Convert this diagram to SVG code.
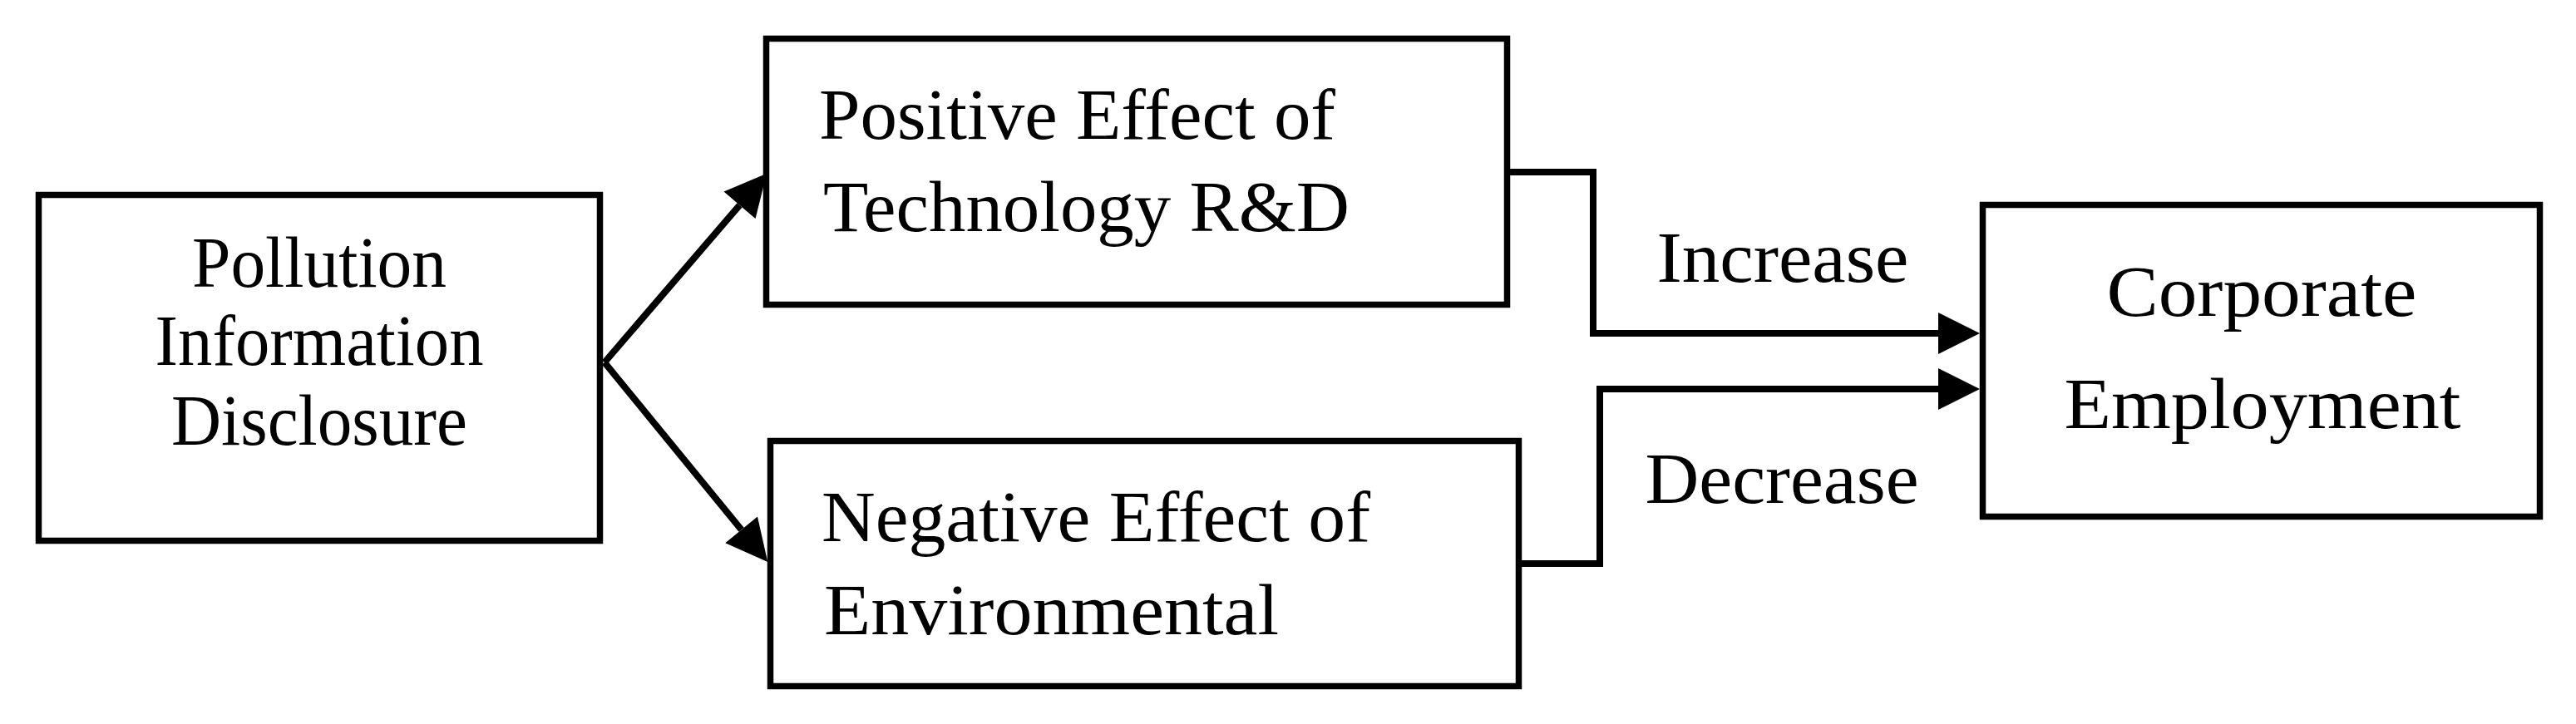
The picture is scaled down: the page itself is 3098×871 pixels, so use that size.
<svg xmlns="http://www.w3.org/2000/svg" width="3098" height="871" viewBox="0 0 3098 871">
<style>
.box{fill:#fff;stroke:#000;stroke-width:7.5}
.t{font-family:"Liberation Serif","Times New Roman",serif;font-size:87px;fill:#000}
.m{text-anchor:middle}
.c{fill:none;stroke:#000;stroke-width:8}
</style>
<defs>
<marker id="ah" markerUnits="userSpaceOnUse" markerWidth="50" markerHeight="50" refX="0" refY="25" orient="auto" overflow="visible">
<path d="M0,0 L50,25 L0,50 z" fill="#000"/>
</marker>
</defs>
<rect width="3098" height="871" fill="#fff"/>
<g id="connectors">
<path class="c" d="M727,436 L889.5,246.8" marker-end="url(#ah)"/>
<path class="c" d="M727,436 L891.6,637.3" marker-end="url(#ah)"/>
<path class="c" d="M1816,207 H1916 V401 H2331" marker-end="url(#ah)"/>
<path class="c" d="M1830,678 H1924 V468 H2331" marker-end="url(#ah)"/>
</g>
<g id="node-pollution">
<rect class="box" x="46.5" y="234.5" width="675" height="416"/>
<text class="t m" x="384" y="345" textLength="306" lengthAdjust="spacingAndGlyphs">Pollution</text>
<text class="t m" x="384" y="439" textLength="395" lengthAdjust="spacingAndGlyphs">Information</text>
<text class="t m" x="384" y="535" textLength="356" lengthAdjust="spacingAndGlyphs">Disclosure</text>
</g>
<g id="node-positive">
<rect class="box" x="921.5" y="46.5" width="891" height="320"/>
<text class="t" x="985" y="167" textLength="621" lengthAdjust="spacingAndGlyphs">Positive Effect of</text>
<text class="t" x="990" y="278" textLength="633" lengthAdjust="spacingAndGlyphs">Technology R&amp;D</text>
</g>
<g id="node-negative">
<rect class="box" x="926.5" y="530.5" width="900" height="295"/>
<text class="t" x="988" y="651" textLength="660" lengthAdjust="spacingAndGlyphs">Negative Effect of</text>
<text class="t" x="991" y="763" textLength="547" lengthAdjust="spacingAndGlyphs">Environmental</text>
</g>
<g id="node-employment">
<rect class="box" x="2384.5" y="246.5" width="670" height="375"/>
<text class="t m" x="2720" y="380" textLength="373" lengthAdjust="spacingAndGlyphs">Corporate</text>
<text class="t m" x="2721" y="515" textLength="477" lengthAdjust="spacingAndGlyphs">Employment</text>
</g>
<g id="labels">
<text class="t m" x="2144" y="339" textLength="303" lengthAdjust="spacingAndGlyphs">Increase</text>
<text class="t m" x="2143" y="605" textLength="329" lengthAdjust="spacingAndGlyphs">Decrease</text>
</g>
</svg>
